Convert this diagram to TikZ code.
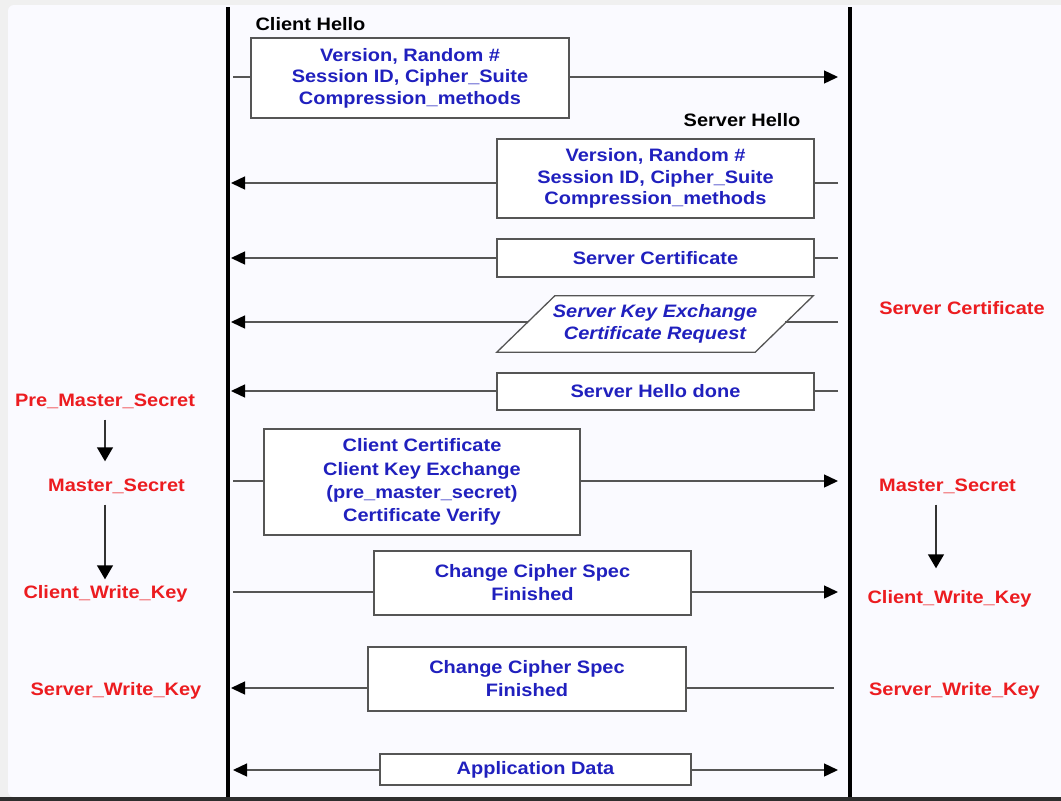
\documentclass[tikz,border=0pt]{standalone}
\usepackage{fontspec}
\setmainfont[FakeStretch=1.11]{Liberation Sans}
\usetikzlibrary{arrows.meta,calc}
\definecolor{msgblue}{RGB}{32,32,190}
\definecolor{keyred}{RGB}{236,28,32}
\definecolor{linegray}{RGB}{85,85,85}
\begin{document}
\begin{tikzpicture}[x=1pt,y=-1pt,
  msgbox/.style={draw=linegray, line width=1.3pt, fill=white, inner sep=0pt, align=center,
    text=msgblue, font=\fontsize{18}{21.5}\selectfont\bfseries},
  msgtext/.style={inner sep=0pt, align=center, text=msgblue,
    font=\fontsize{18}{21.5}\selectfont\bfseries\itshape},
  conn/.style={draw=linegray, line width=1.4pt},
  arrhd/.style={-{Triangle[length=14pt,width=13pt,color=black]}},
  bothhd/.style={{Triangle[length=14pt,width=13pt,color=black]}-{Triangle[length=14pt,width=13pt,color=black]}},
  keyarr/.style={draw=black!80, line width=1.4pt, -{Triangle[length=14pt,width=16pt,color=black]}},
  lifeline/.style={draw=black, line width=4pt},
  keylbl/.style={inner sep=0pt, text height=13pt, text depth=5pt, text=keyred,
    font=\fontsize{18}{21.5}\selectfont\bfseries},
  hdr/.style={inner sep=0pt, text height=13pt, text depth=5pt, text=black,
    font=\fontsize{18}{21.5}\selectfont\bfseries}]
% background
\useasboundingbox (0,0) rectangle (1061,801);
\fill[black!6] (0,0) rectangle (1061,801);
\fill[white!98!blue, rounded corners=6pt] (8,5) rectangle (1071,797);
\fill[black!82] (0,797) rectangle (1061,801);

% lifelines
\coordinate (ltop) at (228,7);
\coordinate (lbot) at (228,797);
\coordinate (rtop) at (850,7);
\coordinate (rbot) at (850,797);
\draw[lifeline] (ltop) -- (lbot);
\draw[lifeline] (rtop) -- (rbot);
\coordinate (LL) at (233,0);
\coordinate (LT) at (231,0);
\coordinate (RR) at (838,0);
\coordinate (RS) at (834,0);

% headers
\node[hdr] (chello) at (310.5,26.5) {Client Hello};
\node[hdr] (shello) at (742,122.5) {Server Hello};

% message boxes
\node[msgbox, minimum width=318pt, minimum height=80pt] (m1) at (410,78)
  {Version, Random \#\\Session ID, Cipher\_Suite\\Compression\_methods};
\node[msgbox, minimum width=317pt, minimum height=79pt] (m2) at (655.5,178.5)
  {Version, Random \#\\Session ID, Cipher\_Suite\\Compression\_methods};
\node[msgbox, minimum width=317pt, minimum height=38pt] (m3) at (655.5,258)
  {Server Certificate};
\node[msgtext, minimum width=258pt, minimum height=56pt] (m4) at (655,324)
  {Server Key Exchange\\Certificate Request};
\draw[draw=linegray, line width=1.3pt, fill=white]
  ($(m4.north west)+(29,0)$) -- ($(m4.north east)+(29,0)$) --
  ($(m4.south east)+(-29,0)$) -- ($(m4.south west)+(-29,0)$) -- cycle;
\node[msgtext, minimum width=258pt, minimum height=56pt] at (m4.center)
  {Server Key Exchange\\Certificate Request};
\node[msgbox, minimum width=317pt, minimum height=37pt] (m5) at (655.5,391.5)
  {Server Hello done};
\node[msgbox, minimum width=316pt, minimum height=106pt,
  font=\fontsize{18}{23.3}\selectfont\bfseries] (m6) at (422,482)
  {Client Certificate\\Client Key Exchange\\(pre\_master\_secret)\\Certificate Verify};
\node[msgbox, minimum width=317pt, minimum height=64pt,
  font=\fontsize{18}{23}\selectfont\bfseries] (m7) at (532.5,583)
  {Change Cipher Spec\\Finished};
\node[msgbox, minimum width=318pt, minimum height=64pt,
  font=\fontsize{18}{23}\selectfont\bfseries] (m8) at (527,679)
  {Change Cipher Spec\\Finished};
\node[msgbox, minimum width=311pt, minimum height=31pt] (m9) at (535.5,769.5)
  {Application Data};

% message lines
\coordinate (y1) at (0,77);
\coordinate (y2) at (0,183);
\coordinate (y3) at (0,258);
\coordinate (y4) at (0,322);
\coordinate (y5) at (0,391);
\coordinate (y6) at (0,481);
\coordinate (y7) at (0,592);
\coordinate (y8) at (0,688);
\coordinate (y9) at (0,770);

\draw[conn] (LL |- y1) -- (m1.west |- y1);
\draw[conn,arrhd] (m1.east |- y1) -- (RR |- y1);

\draw[conn] (RR |- y2) -- (m2.east |- y2);
\draw[conn,arrhd] (m2.west |- y2) -- (LT |- y2);

\draw[conn] (RR |- y3) -- (m3.east |- y3);
\draw[conn,arrhd] (m3.west |- y3) -- (LT |- y3);

\draw[conn] (RR |- y4) -- ($(m4.east |- y4)+(1,0)$);
\draw[conn,arrhd] ($(m4.west |- y4)+(2,0)$) -- (LT |- y4);

\draw[conn] (RR |- y5) -- (m5.east |- y5);
\draw[conn,arrhd] (m5.west |- y5) -- (LT |- y5);

\draw[conn] (LL |- y6) -- (m6.west |- y6);
\draw[conn,arrhd] (m6.east |- y6) -- (RR |- y6);

\draw[conn] (LL |- y7) -- (m7.west |- y7);
\draw[conn,arrhd] (m7.east |- y7) -- (RR |- y7);

\draw[conn] (RS |- y8) -- (m8.east |- y8);
\draw[conn,arrhd] (m8.west |- y8) -- (LT |- y8);

\draw[conn,{Triangle[length=14pt,width=13pt,color=black]}-] (LL |- y9) -- (m9.west |- y9);
\draw[conn,arrhd] (m9.east |- y9) -- (RR |- y9);

% key labels, left
\node[keylbl] (pms) at (105,402) {Pre\_Master\_Secret};
\node[keylbl] (lms) at (116.5,487) {Master\_Secret};
\node[keylbl] (lcwk) at (105.5,594) {Client\_Write\_Key};
\node[keylbl] (lswk) at (116,691) {Server\_Write\_Key};
% key labels, right
\node[keylbl] (rsc) at (962,310) {Server Certificate};
\node[keylbl] (rms) at (947.5,487) {Master\_Secret};
\node[keylbl] (rcwk) at (949.5,599) {Client\_Write\_Key};
\node[keylbl] (rswk) at (954.5,691) {Server\_Write\_Key};

\coordinate (lax) at (105,0);
\coordinate (rax) at (936,0);
\draw[keyarr, shorten <=8.5pt, shorten >=16.5pt] (lax |- pms.south) -- (lax |- lms.north);
\draw[keyarr, shorten <=8.5pt, shorten >=5.5pt] (lax |- lms.south) -- (lax |- lcwk.north);
\draw[keyarr, shorten <=8.5pt, shorten >=21.5pt] (rax |- rms.south) -- (rax |- rcwk.north);
\end{tikzpicture}
\end{document}
